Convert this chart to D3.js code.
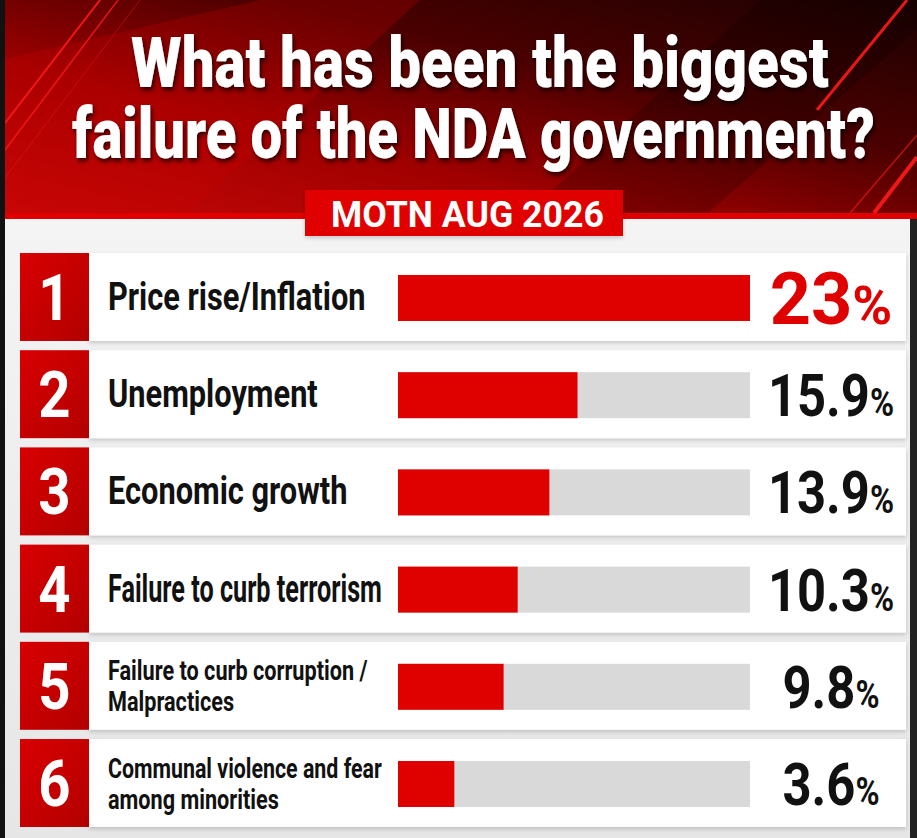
<!DOCTYPE html>
<html>
<head>
<meta charset="utf-8">
<script src="https://cdn.jsdelivr.net/npm/d3@7"></script>
<style>
  html, body { margin: 0; padding: 0; background: #111; }
  svg { display: block; }
</style>
</head>
<body>
<script>
// data
var ranks = [1, 2, 3, 4, 5, 6]
var labels = [
  ["Price rise/Inflation"],
  ["Unemployment"],
  ["Economic growth"],
  ["Failure to curb terrorism"],
  ["Failure to curb corruption /", "Malpractices"],
  ["Communal violence and fear", "among minorities"]
]
var shares = [23, 15.9, 13.9, 10.3, 9.8, 3.6]
// bar lengths as they are drawn, in % of the grey track
var barFill = [100, 51, 43, 34, 30, 16]
var titleLines = ["What has been the biggest", "failure of the NDA government?"]
var badge = "MOTN AUG 2026"

var W = 917, H = 838

var svg = d3.select("body").append("svg")
  .attr("width", W)
  .attr("height", H)

var defs = svg.append("defs")

var hg = defs.append("linearGradient").attr("id", "head")
  .attr("x1", 0).attr("y1", 1).attr("x2", 1).attr("y2", 0)
hg.append("stop").attr("offset", 0).attr("stop-color", "#c80808")
hg.append("stop").attr("offset", 0.35).attr("stop-color", "#a00000")
hg.append("stop").attr("offset", 0.65).attr("stop-color", "#4a0000")
hg.append("stop").attr("offset", 1).attr("stop-color", "#1c0202")

var pg = defs.append("linearGradient").attr("id", "panel")
  .attr("x1", 0).attr("y1", 0).attr("x2", 0).attr("y2", 1)
pg.append("stop").attr("offset", 0).attr("stop-color", "#f4f4f4")
pg.append("stop").attr("offset", 1).attr("stop-color", "#e6e6e6")

var ng = defs.append("linearGradient").attr("id", "numbox")
  .attr("x1", 0).attr("y1", 0).attr("x2", 1).attr("y2", 1)
ng.append("stop").attr("offset", 0).attr("stop-color", "#d80000")
ng.append("stop").attr("offset", 1).attr("stop-color", "#b30000")

var sh = defs.append("filter").attr("id", "tshadow")
  .attr("x", "-5%").attr("y", "-10%").attr("width", "112%").attr("height", "130%")
sh.append("feDropShadow").attr("dx", 2).attr("dy", 3).attr("stdDeviation", 2.5)
  .attr("flood-color", "#000").attr("flood-opacity", 0.75)

var rs = defs.append("filter").attr("id", "rshadow")
  .attr("x", "-5%").attr("y", "-20%").attr("width", "110%").attr("height", "150%")
rs.append("feDropShadow").attr("dx", 0).attr("dy", 2).attr("stdDeviation", 2)
  .attr("flood-color", "#000").attr("flood-opacity", 0.18)

// header
svg.append("rect").attr("width", W).attr("height", 220).attr("fill", "url(#head)")
svg.append("path").attr("d", "M0,220 L0,60 L260,0 L420,0 L180,220 Z")
  .attr("fill", "#d00000").attr("opacity", 0.25)
svg.append("path").attr("d", "M520,220 L760,0 L917,0 L917,30 L700,220 Z")
  .attr("fill", "#000").attr("opacity", 0.2)

var streaks = [
  [5, 123, 100, 0, 2, 0.9],
  [5, 150, 118, 0, 1.5, 0.8],
  [5, 178, 140, 0, 1, 0.4],
  [817, 110, 907, 0, 3, 0.9],
  [874, 213, 917, 157, 4, 0.9],
  [850, 213, 917, 135, 1.5, 0.6]
]
svg.selectAll(".streak").data(streaks).join("line")
  .attr("class", "streak")
  .attr("x1", function(d) { return d[0] }).attr("y1", function(d) { return d[1] })
  .attr("x2", function(d) { return d[2] }).attr("y2", function(d) { return d[3] })
  .attr("stroke", "#ff1a1a")
  .attr("stroke-width", function(d) { return d[4] })
  .attr("opacity", function(d) { return d[5] })

svg.append("rect").attr("y", 213).attr("width", W).attr("height", 6).attr("fill", "#e00000")

// panel
svg.append("rect").attr("y", 219).attr("width", W).attr("height", H - 219).attr("fill", "url(#panel)")

// frame edges
svg.append("rect").attr("width", 5).attr("height", H).attr("fill", "#111")
svg.append("rect").attr("x", 910).attr("y", 219).attr("width", 7).attr("height", H - 219).attr("fill", "#222")

// title: squeezed to the width of each line in the picture
var titleX = [131, 72], titleW = [698, 803], titleY = [87, 158]
svg.selectAll(".title").data(titleLines).join("text")
  .attr("class", "title")
  .attr("font-family", "Roboto, 'Liberation Sans', sans-serif")
  .attr("font-weight", 900)
  .attr("font-size", 71)
  .attr("fill", "#fff")
  .attr("filter", "url(#tshadow)")
  .text(function(d) { return d })
  .attr("transform", function(d, i) {
    var sx = titleW[i] / this.getComputedTextLength()
    return "translate(" + titleX[i] + "," + titleY[i] + ") scale(" + sx + ",1)"
  })

// badge
svg.append("rect").attr("x", 305).attr("y", 190).attr("width", 318).attr("height", 46)
  .attr("fill", "#e00000").attr("filter", "url(#rshadow)")
svg.append("text")
  .attr("font-family", "Roboto, sans-serif").attr("font-weight", 700)
  .attr("font-size", 36).attr("fill", "#fff")
  .text(badge)
  .attr("transform", function() {
    return "translate(331,227) scale(" + (273 / this.getComputedTextLength()) + ",1)"
  })

// scales
var y = d3.scaleBand().domain(ranks).range([253, 827]).paddingInner(0.095)
var x = d3.scaleLinear().domain([0, 100]).range([398, 750])
var barH = 46
var labelX = 108, labelMax = x(0) - 16

var rows = svg.selectAll(".row").data(ranks).join("g")
  .attr("class", "row")
  .attr("transform", function(d) { return "translate(0," + y(d) + ")" })

rows.append("rect")
  .attr("x", 89).attr("width", 817).attr("height", y.bandwidth())
  .attr("fill", "#fff").attr("filter", "url(#rshadow)")

rows.append("rect")
  .attr("x", 20).attr("width", 69).attr("height", y.bandwidth())
  .attr("fill", "url(#numbox)")

rows.append("text")
  .attr("transform", "translate(54.5," + (y.bandwidth() / 2 + 23) + ") scale(0.88,1)")
  .attr("text-anchor", "middle")
  .attr("font-family", "Roboto, sans-serif").attr("font-weight", 700)
  .attr("font-size", 64).attr("fill", "#fff")
  .text(function(d) { return d })

// labels, condensed and kept left of the bars
rows.each(function(d, i) {
  var g = d3.select(this)
  var lines = labels[i]
  var big = lines.length == 1
  var fs = big ? 38 : 28.5
  var lh = 31
  var y0 = y.bandwidth() / 2 + (big ? 13 : 10 - lh / 2 * (lines.length - 1))
  lines.forEach(function(t, k) {
    var txt = g.append("text")
      .attr("font-family", "Roboto, sans-serif").attr("font-weight", 700)
      .attr("font-size", fs).attr("fill", "#111")
      .text(t)
    var len = txt.node().getComputedTextLength()
    var sx = Math.min(big ? 0.81 : 0.76, (labelMax - labelX) / len)
    txt.attr("transform", "translate(" + labelX + "," + (y0 + k * lh) + ") scale(" + sx + ",1)")
  })
})

// bars
rows.append("rect")
  .attr("x", x(0)).attr("y", (y.bandwidth() - barH) / 2 + 1)
  .attr("width", x(100) - x(0)).attr("height", barH)
  .attr("fill", "#d9d9d9")

rows.append("rect")
  .attr("x", x(0)).attr("y", (y.bandwidth() - barH) / 2 + 1)
  .attr("width", function(d, i) { return x(barFill[i]) - x(0) }).attr("height", barH)
  .attr("fill", "#df0000")

// values
var maxShare = d3.max(shares)
rows.append("text")
  .attr("transform", function(d, i) {
    var lead = shares[i] == maxShare
    return "translate(831," + (y.bandwidth() / 2 + (lead ? 27 : 22)) + ") scale(" + (lead ? 1 : 0.86) + ",1)"
  })
  .attr("text-anchor", "middle")
  .attr("font-family", "Roboto, sans-serif").attr("font-weight", 700)
  .attr("fill", function(d, i) { return shares[i] == maxShare ? "#df0000" : "#111" })
  .attr("font-size", function(d, i) { return shares[i] == maxShare ? 72 : 59 })
  .each(function(d, i) {
    var t = d3.select(this)
    t.append("tspan").text(shares[i])
    t.append("tspan").attr("font-size", shares[i] == maxShare ? 54 : 38).text("%")
  })
</script>
</body>
</html>
